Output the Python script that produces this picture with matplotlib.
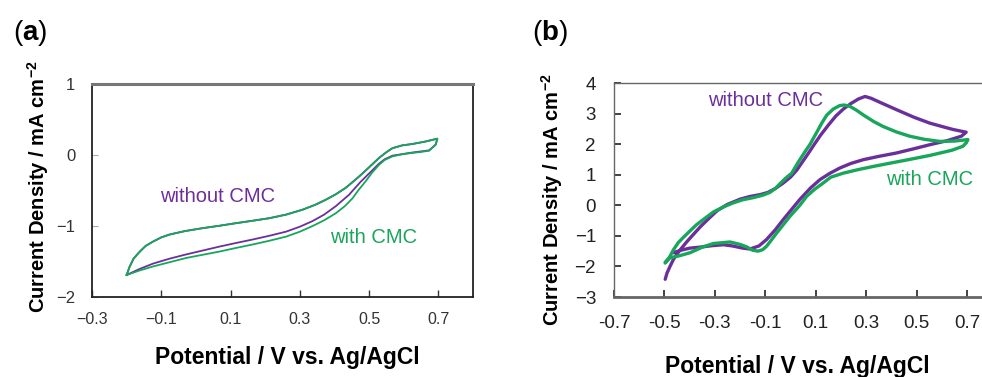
import matplotlib
matplotlib.use("Agg")
import matplotlib.pyplot as plt

plt.rcParams["font.family"] = ["Liberation Sans", "DejaVu Sans"]
plt.rcParams["mathtext.fontset"] = "custom"
plt.rcParams["mathtext.rm"] = "Liberation Sans"
plt.rcParams["mathtext.bf"] = "Liberation Sans:bold"
plt.rcParams["mathtext.default"] = "regular"

PURPLE = "#6b2f9c"
GREEN = "#17a65a"

# ---- panel (a): potential (V) / current density (mA cm-2) ----
a_up_v = [-0.200, -0.192, -0.180, -0.162, -0.145, -0.124, -0.100, -0.076, -0.030, 0.020,
          0.070, 0.116, 0.165, 0.212, 0.260, 0.308, 0.345, 0.375, 0.405, 0.433,
          0.460, 0.481, 0.505, 0.529, 0.550, 0.567, 0.595, 0.625, 0.663, 0.697]
a_up_j = [-1.69, -1.58, -1.46, -1.36, -1.28, -1.22, -1.16, -1.12, -1.07, -1.03,
          -0.995, -0.96, -0.925, -0.89, -0.84, -0.77, -0.70, -0.63, -0.55, -0.46,
          -0.35, -0.26, -0.15, -0.04, 0.04, 0.095, 0.135, 0.155, 0.19, 0.23]

a_wo_low_v = [0.692, 0.673, 0.625, 0.567, 0.545, 0.529, 0.500, 0.475, 0.442, 0.404,
              0.370, 0.337, 0.300, 0.260, 0.210, 0.164, 0.115, 0.068, 0.020, -0.028,
              -0.076, -0.124, -0.165, -0.200]
a_wo_low_j = [0.145, 0.065, 0.035, -0.01, -0.06, -0.12, -0.26, -0.38, -0.56, -0.72,
              -0.84, -0.93, -1.01, -1.08, -1.14, -1.19, -1.24, -1.29, -1.345, -1.40,
              -1.46, -1.53, -1.61, -1.69]

a_w_low_v = [0.692, 0.673, 0.645, 0.625, 0.595, 0.567, 0.545, 0.529, 0.510, 0.490,
             0.470, 0.452, 0.430, 0.404, 0.370, 0.337, 0.300, 0.260, 0.210, 0.164,
             0.115, 0.068, 0.020, -0.028, -0.076, -0.124, -0.165, -0.200]
a_w_low_j = [0.145, 0.06, 0.04, 0.03, 0.01, -0.02, -0.07, -0.136, -0.24, -0.37,
             -0.49, -0.61, -0.72, -0.82, -0.92, -1.0, -1.08, -1.15, -1.21, -1.26,
             -1.31, -1.36, -1.405, -1.45, -1.51, -1.57, -1.63, -1.69]

a_xticks = [-0.3, -0.1, 0.1, 0.3, 0.5, 0.7]
a_xticklabels = ["\u22120.3", "\u22120.1", "0.1", "0.3", "0.5", "0.7"]
a_yticks = [-2, -1, 0, 1]

# ---- panel (b) ----
b_wo_v = [-0.497, -0.490, -0.478, -0.465, -0.451, -0.430, -0.410, -0.385, -0.355, -0.320,
          -0.290, -0.250, -0.200, -0.160, -0.120, -0.090, -0.060, -0.030, 0.000, 0.025,
          0.050, 0.075, 0.095, 0.120, 0.150, 0.180, 0.210, 0.240, 0.270, 0.296,
          0.320, 0.360, 0.420, 0.490, 0.552, 0.600, 0.645, 0.680, 0.697,
          0.678, 0.620, 0.552, 0.490, 0.420, 0.350, 0.288, 0.240, 0.196, 0.155,
          0.117, 0.080, 0.037, 0.000, -0.029, -0.060, -0.095, -0.125, -0.161, -0.190,
          -0.230, -0.266, -0.310, -0.360, -0.398, -0.435, -0.464]
b_wo_j = [-2.42, -2.22, -2.00, -1.78, -1.60, -1.38, -1.18, -0.95, -0.68, -0.40,
          -0.17, 0.03, 0.20, 0.29, 0.35, 0.42, 0.55, 0.72, 0.92, 1.15,
          1.45, 1.75, 2.00, 2.30, 2.62, 2.92, 3.15, 3.33, 3.48, 3.56,
          3.50, 3.35, 3.13, 2.88, 2.69, 2.58, 2.48, 2.42, 2.39,
          2.26, 2.11, 1.98, 1.85, 1.71, 1.60, 1.49, 1.37, 1.22, 1.04,
          0.84, 0.57, 0.19, -0.18, -0.47, -0.80, -1.12, -1.33, -1.43, -1.40,
          -1.33, -1.29, -1.32, -1.37, -1.40, -1.47, -1.55]

b_w_v = [-0.497, -0.480, -0.464, -0.445, -0.425, -0.400, -0.372, -0.340, -0.306, -0.265,
         -0.227, -0.190, -0.148, -0.110, -0.082, -0.060, -0.040, -0.020, 0.005, 0.030,
         0.055, 0.078, 0.105, 0.125, 0.144, 0.170, 0.195, 0.212, 0.235, 0.260,
         0.290, 0.330, 0.367, 0.420, 0.473, 0.530, 0.592, 0.650, 0.684, 0.704,
         0.698, 0.684, 0.640, 0.552, 0.460, 0.390, 0.328, 0.270, 0.209, 0.160,
         0.130, 0.095, 0.064, 0.035, -0.002, -0.030, -0.055, -0.078, -0.095, -0.110,
         -0.128, -0.150, -0.174, -0.200, -0.240, -0.266, -0.306, -0.350, -0.398, -0.440,
         -0.478, -0.497]
b_w_j = [-1.89, -1.70, -1.45, -1.22, -1.05, -0.85, -0.63, -0.43, -0.22, -0.05,
         0.08, 0.18, 0.25, 0.33, 0.42, 0.55, 0.72, 0.88, 1.05, 1.40,
         1.72, 2.00, 2.40, 2.70, 2.95, 3.15, 3.26, 3.28, 3.24, 3.12,
         2.95, 2.74, 2.58, 2.40, 2.26, 2.16, 2.09, 2.10, 2.13, 2.15,
         2.05, 1.93, 1.80, 1.63, 1.48, 1.37, 1.27, 1.17, 1.05, 0.92,
         0.73, 0.52, 0.29, -0.02, -0.36, -0.65, -0.91, -1.16, -1.34, -1.45,
         -1.50, -1.47, -1.36, -1.28, -1.20, -1.22, -1.25, -1.37, -1.55, -1.65,
         -1.72, -1.86]

b_xticks = [-0.7, -0.5, -0.3, -0.1, 0.1, 0.3, 0.5, 0.7]
b_xticklabels = ["-0.7", "-0.5", "-0.3", "-0.1", "0.1", "0.3", "0.5", "0.7"]
b_yticks = [-3, -2, -1, 0, 1, 2, 3, 4]

ylab = r"Current Density / mA cm$^{-2}$"
xlab = "Potential / V vs. Ag/AgCl"

fig = plt.figure(figsize=(9.82, 3.77), dpi=100)

# panel (a)
ax1 = fig.add_axes([0.0937, 0.2122, 0.388, 0.565])
ax1.plot(a_up_v + a_wo_low_v, a_up_j + a_wo_low_j, color=PURPLE, lw=1.3,
         solid_joinstyle="round")
ax1.plot(a_up_v + a_w_low_v, a_up_j + a_w_low_j, color=GREEN, lw=1.3,
         solid_joinstyle="round")
ax1.set_xlim(-0.3, 0.8)
ax1.set_ylim(-2, 1)
ax1.set_xticks(a_xticks)
ax1.set_xticklabels(a_xticklabels)
ax1.set_yticks(a_yticks)
ax1.tick_params(axis="x", direction="in", length=5, width=1, color="#333333",
                labelsize=11.5, labelcolor="#333333", pad=11)
ax1.tick_params(axis="y", direction="in", length=4, width=0.8, color="#aaaaaa",
                labelsize=12, labelcolor="#333333", pad=12)
for side in ["left", "bottom", "right"]:
    ax1.spines[side].set_color("#222222")
    ax1.spines[side].set_linewidth(1.3)
ax1.spines["top"].set_color("#777777")
ax1.spines["top"].set_linewidth(2.2)
ax1.text(0.063, -0.58, "without CMC", color=PURPLE, fontsize=14.5, ha="center", va="center")
ax1.text(0.514, -1.155, "with CMC", color=GREEN, fontsize=14.5, ha="center", va="center")

fig.text(0.039, 0.504, ylab, rotation=90, fontsize=14.5, fontweight="bold",
         ha="center", va="center")
fig.text(0.293, 0.053, xlab, fontsize=16.5, fontweight="bold", ha="center", va="center")
fig.text(0.031, 0.912, r"($\mathbf{a}$)", fontsize=20, ha="center", va="center")

# panel (b)
ax2 = fig.add_axes([0.6253, 0.2122, 0.385, 0.5676])
ax2.plot(b_wo_v, b_wo_j, color=PURPLE, lw=2.4, solid_joinstyle="round",
         solid_capstyle="round")
ax2.plot(b_w_v, b_w_j, color=GREEN, lw=2.4, solid_joinstyle="round",
         solid_capstyle="round")
ax2.set_xlim(-0.7, 0.8)
ax2.set_ylim(-3, 4)
ax2.set_xticks(b_xticks)
ax2.set_xticklabels(b_xticklabels)
ax2.set_yticks(b_yticks)
ax2.tick_params(axis="both", direction="in", length=5, width=1.2, color="#222222",
                labelsize=13.5, labelcolor="#222222")
ax2.tick_params(axis="x", pad=13)
ax2.tick_params(axis="y", pad=13)
for side in ["left", "bottom", "top", "right"]:
    ax2.spines[side].set_color("#666666")
    ax2.spines[side].set_linewidth(1.0)
ax2.spines["bottom"].set_linewidth(2.0)
ax2.text(-0.097, 3.44, "without CMC", color=PURPLE, fontsize=14.5, ha="center", va="center")
ax2.text(0.55, 0.83, "with CMC", color=GREEN, fontsize=14.5, ha="center", va="center")

fig.text(0.562, 0.469, ylab, rotation=90, fontsize=14.5, fontweight="bold",
         ha="center", va="center")
fig.text(0.812, 0.027, xlab, fontsize=16.5, fontweight="bold", ha="center", va="center")
fig.text(0.560, 0.912, r"($\mathbf{b}$)", fontsize=20, ha="center", va="center")

fig.savefig("out.png", dpi=100, facecolor="white")
